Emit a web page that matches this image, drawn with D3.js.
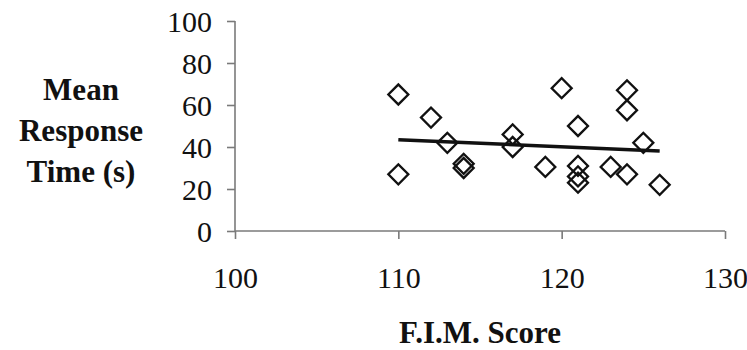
<!DOCTYPE html>
<html>
<head>
<meta charset="utf-8">
<script src="https://cdn.jsdelivr.net/npm/d3@7"></script>
<style>
  html, body { margin: 0; padding: 0; background: #fff; }
  svg { display: block; }
</style>
</head>
<body>
<svg id="chart" width="747" height="350"></svg>
<script>
// F.I.M. score of each participant and their mean response time (seconds)
const fimScores = [110, 110, 112, 113, 114, 114, 117, 117, 119, 120,
                   121, 121, 121, 121, 123, 124, 124, 124, 125, 126];
const responseTimes = [65, 27, 54, 42, 32, 30, 46, 40, 30.5, 68,
                       50, 31, 26, 23, 30.5, 67, 57.5, 27, 42, 22];
const xTicks = [100, 110, 120, 130];
const yTicks = [0, 20, 40, 60, 80, 100];
const yTitleLines = ["Mean", "Response", "Time (s)"];
const xTitle = "F.I.M. Score";

const svg = d3.select("#chart");
const serif = '"Liberation Serif"';
const axisColor = "#7a7a7a";

const x = d3.scaleLinear().domain([100, 130]).range([235, 725]);
const y = d3.scaleLinear().domain([0, 100]).range([231, 21]);

// x axis
const xAxis = svg.append("g")
  .attr("transform", `translate(0,${y(0)})`)
  .call(d3.axisBottom(x).tickValues(xTicks).tickSize(8).tickPadding(28).tickFormat(d3.format("d")));
xAxis.select(".domain").attr("stroke", axisColor).attr("stroke-width", 1.6).attr("d", `M${x(100)},0H${x(130)}`);
xAxis.selectAll(".tick line").attr("stroke", axisColor).attr("stroke-width", 1.6);
xAxis.selectAll(".tick text")
  .style("font-family", serif).style("font-size", "30px").attr("fill", "#111");

// y axis
const yAxis = svg.append("g")
  .attr("transform", `translate(${x(100)},0)`)
  .call(d3.axisLeft(y).tickValues(yTicks).tickSize(8).tickPadding(15).tickFormat(d3.format("d")));
yAxis.select(".domain").attr("stroke", axisColor).attr("stroke-width", 1.6).attr("d", `M0,${y(100)}V${y(0)}`);
yAxis.selectAll(".tick line").attr("stroke", axisColor).attr("stroke-width", 1.6);
yAxis.selectAll(".tick text")
  .style("font-family", serif).style("font-size", "30px").attr("fill", "#111").attr("dy", "0.36em");

// axis titles
svg.append("text")
  .attr("x", x(115)).attr("y", 343)
  .attr("text-anchor", "middle")
  .style("font-family", serif).style("font-size", "31px").style("font-weight", "bold").attr("fill", "#111")
  .text(xTitle);

svg.append("g").selectAll("text")
  .data(yTitleLines)
  .join("text")
  .attr("x", 81).attr("y", (d, i) => 100 + i * 41)
  .attr("text-anchor", "middle")
  .style("font-family", serif).style("font-size", "31px").style("font-weight", "bold").attr("fill", "#111")
  .text(d => d);

// scatter points as open diamonds
const points = fimScores.map((f, i) => ({ f, t: responseTimes[i] }));
const diamond = d3.symbol().type(d3.symbolSquare).size(200);
svg.append("g").selectAll("path")
  .data(points)
  .join("path")
  .attr("d", diamond)
  .attr("transform", d => `translate(${x(d.f)},${y(d.t)}) rotate(45)`)
  .attr("fill", "none")
  .attr("stroke", "#111")
  .attr("stroke-width", 2.3);

// least-squares trend line across the observed score range
const mx = d3.mean(fimScores), my = d3.mean(responseTimes);
const sxy = d3.sum(points, d => (d.f - mx) * (d.t - my));
const sxx = d3.sum(points, d => (d.f - mx) ** 2);
const slope = sxy / sxx, intercept = my - slope * mx;
const [fMin, fMax] = d3.extent(fimScores);
svg.append("path")
  .datum([fMin, fMax])
  .attr("d", d3.line().x(d => x(d)).y(d => y(intercept + slope * d)))
  .attr("stroke", "#111")
  .attr("stroke-width", 3.5)
  .attr("fill", "none");
</script>
</body>
</html>
